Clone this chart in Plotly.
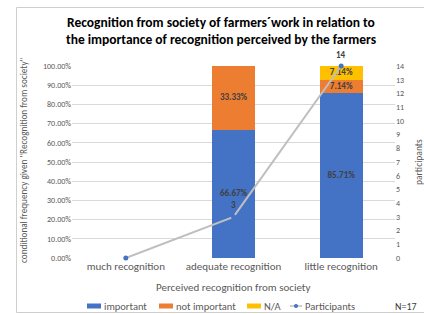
import plotly.graph_objects as go

categories = ["much recognition", "adequate recognition", "little recognition"]
important = [0.0, 0.6667, 0.8571]
not_important = [0.0, 0.3333, 0.0714]
na = [0.0, 0.0, 0.0714]
participants = [0, 3, 14]
participant_labels = ["", "3", "14"]
title_lines = ["Recognition from society of farmers´work in relation to",
               "the importance of recognition perceived by the farmers"]

FONT = "Calibri, Carlito, Lato, sans-serif"
LBL = dict(family=FONT, size=9, color="#404040")
COLORS = {"important": "#4472C4", "not important": "#ED7D31", "N/A": "#FFC000"}
SERIES = [("important", important), ("not important", not_important), ("N/A", na)]

fig = go.Figure()
base = [0.0] * len(categories)
lx, ly, lt = [], [], []
for name, vals in SERIES:
    fig.add_trace(go.Bar(x=categories, y=vals, name=name, marker_color=COLORS[name],
                         marker_line_width=0, width=0.40, yaxis="y",
                         showlegend=False))
    for i, v in enumerate(vals):
        if v > 0:
            lx.append(categories[i])
            ly.append(base[i] + v / 2)
            lt.append(f"<b>{v*100:.2f}%</b>")
        base[i] += v

fig.add_trace(go.Scatter(x=categories, y=participants, name="Participants",
                         mode="lines+markers", yaxis="y2",
                         line=dict(color="#BFBFBF", width=2),
                         marker=dict(color="#4472C4", size=5),
                         cliponaxis=False, showlegend=False))

fig.add_trace(go.Scatter(x=lx, y=ly, mode="text", text=lt, textfont=LBL,
                         textposition="middle center", yaxis="y",
                         showlegend=False, hoverinfo="skip"))

for c, v, t in zip(categories, participants, participant_labels):
    if t:
        fig.add_annotation(x=c, y=v, xref="x", yref="y2", text=f"<b>{t}</b>",
                           showarrow=False, yshift=12, font=LBL, borderpad=0)

L, R, T, B = 72, 29, 66, 56
W, H = 424, 314
pw, ph = W - L - R, H - T - B

def px(x):
    return (x - L) / pw

def py(y):
    return (H - B - y) / ph

fig.update_layout(
    width=W, height=H,
    margin=dict(l=L, r=R, t=T, b=B, autoexpand=False),
    barmode="stack",
    plot_bgcolor="white", paper_bgcolor="white",
    font=dict(family=FONT, color="#595959"),
    xaxis=dict(tickfont=dict(size=11, color="#595959"), showgrid=False,
               showline=False, ticks=""),
    yaxis=dict(range=[0, 1], dtick=0.1, tickformat=".2%",
               tickfont=dict(size=8, color="#595959"),
               gridcolor="#D9D9D9", gridwidth=1, zeroline=False),
    yaxis2=dict(range=[0, 14], dtick=1, overlaying="y", side="right",
                showgrid=False, zeroline=False,
                tickfont=dict(size=8, color="#595959")),
    showlegend=False,
)

for line, yy in zip(title_lines, [22.5, 39.5]):
    fig.add_annotation(text=f"<b>{line}</b>", x=px(221), y=py(yy), xref="paper",
                       yref="paper", showarrow=False, xanchor="center", yanchor="middle",
                       borderpad=0,
                       font=dict(family=FONT, size=13.5, color="#000000"))

fig.add_annotation(text="Perceived recognition from society", x=px(233), y=py(287),
                   xref="paper", yref="paper", showarrow=False,
                   xanchor="center", yanchor="middle",
                   font=dict(family=FONT, size=11, color="#595959"))
fig.add_annotation(text='conditional frequency given "Recognition from society"',
                   x=px(23), y=py(160), xref="paper", yref="paper", showarrow=False,
                   textangle=-90, xanchor="center", yanchor="middle",
                   font=dict(family=FONT, size=9.2, color="#595959"))
fig.add_annotation(text="participants", x=px(419), y=py(162), xref="paper", yref="paper",
                   showarrow=False, textangle=-90, xanchor="center", yanchor="middle",
                   font=dict(family=FONT, size=9.5, color="#595959"))
fig.add_annotation(text="N=17", x=px(406), y=py(306), xref="paper", yref="paper",
                   showarrow=False, xanchor="center", yanchor="middle",
                   font=dict(family=FONT, size=10, color="#404040"))

# custom legend
LEG_Y = 306
LEG_FONT = dict(family=FONT, size=10.5, color="#595959")
legend_items = [("important", 87), ("not important", 159), ("N/A", 247)]
for name, x0 in legend_items:
    fig.add_shape(type="rect", xref="paper", yref="paper",
                  x0=px(x0), x1=px(x0 + 14), y0=py(LEG_Y + 2.5), y1=py(LEG_Y - 2.5),
                  line=dict(width=0), fillcolor=COLORS[name])
    fig.add_annotation(text=name, x=px(x0 + 15), y=py(LEG_Y), xref="paper", yref="paper",
                       showarrow=False, xanchor="left", yanchor="middle", font=LEG_FONT)
fig.add_shape(type="line", xref="paper", yref="paper",
              x0=px(290), x1=px(302), y0=py(LEG_Y), y1=py(LEG_Y),
              line=dict(color="#BFBFBF", width=1.5))
fig.add_shape(type="circle", xref="paper", yref="paper",
              x0=px(294), x1=px(298), y0=py(LEG_Y + 2), y1=py(LEG_Y - 2),
              line=dict(width=0), fillcolor="#4472C4")
fig.add_annotation(text="Participants", x=px(303), y=py(LEG_Y), xref="paper", yref="paper",
                   showarrow=False, xanchor="left", yanchor="middle", font=LEG_FONT)

fig.add_shape(type="rect", xref="paper", yref="paper",
              x0=px(16.5), x1=px(430), y0=py(312.5), y1=py(7.5),
              line=dict(color="#CFCFCF", width=1), fillcolor="rgba(0,0,0,0)",
              layer="above")

fig.write_html("out.html", config={"displayModeBar": False},
               post_script="document.body.style.margin='0';document.body.style.overflow='hidden';")
